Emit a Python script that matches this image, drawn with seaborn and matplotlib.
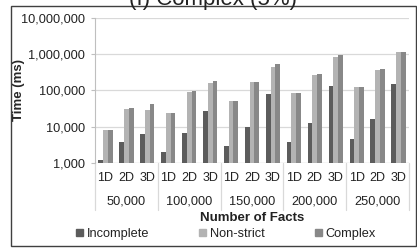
"""
Query time per number of facts, log scale, grouped by dimensionality.
"""

import pandas as pd
import matplotlib
matplotlib.use("Agg")
import matplotlib.pyplot as plt
import matplotlib.patches as mpatches
import matplotlib.ticker as mticker
import matplotlib.transforms as mtransforms
import seaborn as sns

# data
fact_counts = ["50,000", "100,000", "150,000", "200,000", "250,000"]
dims = ["1D", "2D", "3D"]
series = ["Incomplete", "Non-strict", "Complex"]

incomplete = [1190, 3700, 6300, 2020, 6800, 27000, 2860, 9600, 81000,
              3700, 12700, 135000, 4550, 16300, 153000]
non_strict = [7900, 31000, 29000, 24000, 91000, 163000, 51000, 170000, 456000,
              82600, 261000, 830000, 126000, 360000, 1170000]
complex_ = [7900, 33000, 40700, 24000, 95000, 186000, 50000, 175000, 550000,
            84000, 277000, 935000, 127000, 390000, 1130000]

colors = ["#5c5c5c", "#b3b3b3", "#888888"]

cats = [f"{n}|{d}" for n in fact_counts for d in dims]
df = pd.DataFrame({
    "cat": cats * 3,
    "series": [s for s in series for _ in cats],
    "time": incomplete + non_strict + complex_,
})

sns.set_style("white")
plt.rcParams["font.family"] = ["Liberation Sans", "DejaVu Sans"]

W, H = 417, 248
fig = plt.figure(figsize=(W / 100, H / 100), dpi=100)
x0, x1, ytop, ybot = 95, 409, 18, 162.7
ax = fig.add_axes([x0 / W, 1 - ybot / H, (x1 - x0) / W, (ybot - ytop) / H])

sns.barplot(data=df, x="cat", y="time", hue="series", order=cats,
            hue_order=series, palette=colors, saturation=1, width=0.68,
            gap=0, ax=ax, legend=False, linewidth=0)

ax.set_yscale("log")
ax.set_ylim(1000, 1e7)
ax.set_xlim(-0.5, len(cats) - 0.5)
ax.yaxis.set_major_locator(mticker.LogLocator(base=10, numticks=10))
ax.yaxis.set_minor_locator(mticker.NullLocator())
ax.yaxis.set_major_formatter(mticker.FuncFormatter(lambda v, p: f"{v:,.0f}"))
ax.grid(axis="y", color="#d9d9d9", linewidth=0.9)
ax.set_axisbelow(True)
for side in ["top", "right", "bottom"]:
    ax.spines[side].set_visible(False)
ax.spines["left"].set_color("#bfbfbf")
ax.spines["left"].set_linewidth(0.8)
ax.tick_params(axis="y", left=True, length=3, width=0.8, color="#bfbfbf",
               labelsize=9.2, labelcolor="#222222", pad=4)
ax.tick_params(axis="x", length=0, labelsize=9, labelcolor="#222222", pad=6.5)
ax.set_xticks(range(len(cats)))
ax.set_xticklabels([d for _ in fact_counts for d in dims])
ax.set_xlabel("")
ax.set_ylabel("Time (ms)", fontsize=9.5, fontweight="bold")
# right edge of the rotated label at about x=25 px
ax.yaxis.set_label_coords((25 - x0) / (x1 - x0), 0.5)

# baseline at 1,000 and group separators / group labels
ax.axhline(1000, color="#d9d9d9", linewidth=0.9, zorder=0)
trans = mtransforms.blended_transform_factory(ax.transData, ax.transAxes)
for b in [i * 3 - 0.5 for i in range(len(fact_counts) + 1)]:
    ax.plot([b, b], [0, -0.33], transform=trans, color="#d9d9d9",
            linewidth=0.9, clip_on=False)
for i, n in enumerate(fact_counts):
    ax.text(i * 3 + 1, -0.265, n, transform=trans, ha="center", va="center",
            fontsize=9.2, color="#222222")

fig.text(252 / W, 1 - 218 / H, "Number of Facts", ha="center", va="center",
         fontsize=9.5, fontweight="bold", color="#222222")

handles = [mpatches.Patch(color=c, label=s) for c, s in zip(colors, series)]
fig.legend(handles=handles, loc="center", bbox_to_anchor=(226 / W, 1 - 234 / H),
           ncol=3, frameon=False, fontsize=9.2, handlelength=0.55,
           handleheight=0.55, handletextpad=0.3, columnspacing=3.9,
           labelcolor="#222222")

# title sits above the chart border and is clipped by the image edge,
# as in the reference
fig.text(213 / W, 1 - 5 / H, "(f) Complex (5%)", ha="center", va="baseline",
         fontsize=16, color="#222222")

# chart border
fig.add_artist(mpatches.Rectangle((11 / W, 1 - 246 / H), 405 / W, 240 / H,
                                  transform=fig.transFigure, fill=False,
                                  edgecolor="#404040", linewidth=1))

fig.savefig("out.png", dpi=100)
